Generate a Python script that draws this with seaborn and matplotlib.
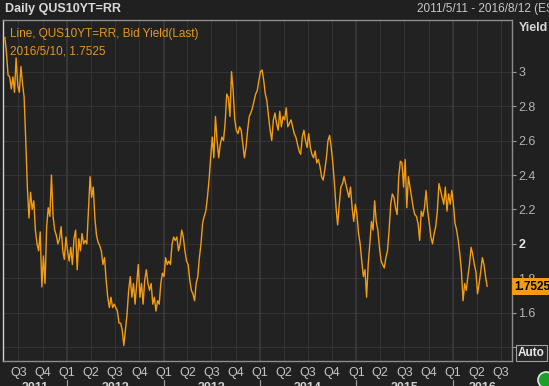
import numpy as np
import pandas as pd
import matplotlib
matplotlib.use("Agg")
import matplotlib.pyplot as plt
import matplotlib.dates as mdates
import matplotlib.transforms as mtransforms
from matplotlib.patches import Circle
import seaborn as sns

# ---------------- data ----------------
series_name = "Line, QUS10YT=RR, Bid Yield(Last)"
title_text = "Daily QUS10YT=RR"
range_text = "2011/5/11 - 2016/8/12 (EST)"
data_start = "2011-05-11"
data_end = "2016-05-10"
view_start = "2011-05-04"
view_end = "2016-08-12"
last_label = "2016/5/10, 1.7525"
last_value = 1.7525

yields_2011_12 = [3.20, 3.11, 2.98, 2.97, 2.90, 2.97, 2.88, 3.08, 2.92, 2.88,
                  3.03, 2.93, 2.85, 2.60, 2.33, 2.15, 2.30, 2.20, 2.25, 2.08,
                  2.00, 1.96, 2.07, 1.75, 1.93, 1.77, 2.10, 2.21, 2.16, 2.40,
                  2.16, 2.08, 2.05, 2.00, 2.03, 2.10, 1.96, 1.91, 2.04, 1.96,
                  1.90, 1.98, 1.88, 2.03, 2.08, 1.85, 2.03, 1.96, 2.06, 2.00,
                  2.02, 2.00, 2.20, 2.39, 2.27, 2.33, 2.15, 2.05, 2.01, 1.99,
                  1.96]
yields_2012_13 = [1.88, 1.92, 1.79, 1.69, 1.63, 1.69, 1.63, 1.65, 1.63, 1.61,
                  1.54, 1.54, 1.50, 1.41, 1.50, 1.59, 1.73, 1.81, 1.69, 1.77,
                  1.65, 1.77, 1.88, 1.69, 1.77, 1.65, 1.79, 1.85, 1.77, 1.73,
                  1.77, 1.65, 1.69, 1.61, 1.67, 1.65, 1.77, 1.83, 1.81, 1.92,
                  1.88, 1.90, 1.88, 2.00, 2.04, 2.02, 2.04, 1.96, 2.00, 2.08,
                  2.04, 1.96, 1.90, 1.88, 1.79, 1.73, 1.71, 1.67, 1.77, 1.81,
                  1.92]
yields_2013_14 = [2.00, 2.12, 2.16, 2.19, 2.27, 2.37, 2.50, 2.62, 2.50, 2.74,
                  2.60, 2.50, 2.58, 2.62, 2.60, 2.70, 2.87, 2.85, 2.74, 3.00,
                  2.89, 2.72, 2.66, 2.64, 2.68, 2.66, 2.58, 2.50, 2.56, 2.66,
                  2.74, 2.76, 2.79, 2.83, 2.87, 2.89, 2.95, 3.00, 3.01, 2.95,
                  2.87, 2.83, 2.74, 2.66, 2.60, 2.72, 2.76, 2.70, 2.66, 2.77,
                  2.68, 2.74, 2.72, 2.79, 2.68, 2.70, 2.72, 2.68, 2.64, 2.62,
                  2.58, 2.54, 2.52]
yields_2014_15 = [2.62, 2.66, 2.60, 2.56, 2.64, 2.56, 2.52, 2.50, 2.54, 2.47,
                  2.49, 2.45, 2.39, 2.37, 2.43, 2.50, 2.60, 2.63, 2.56, 2.47,
                  2.35, 2.21, 2.11, 2.23, 2.33, 2.35, 2.39, 2.35, 2.31, 2.27,
                  2.33, 2.21, 2.13, 2.23, 2.17, 2.06, 2.00, 1.90, 1.81, 1.85,
                  1.69, 1.88, 2.00, 2.13, 2.08, 2.25, 2.13, 2.08, 1.98, 1.90,
                  1.88, 1.86, 1.92, 1.96, 2.08, 2.23, 2.29, 2.27, 2.21, 2.17,
                  2.39, 2.48]
yields_2015_16 = [2.47, 2.33, 2.49, 2.21, 2.39, 2.33, 2.27, 2.21, 2.17, 2.16,
                  2.12, 2.02, 2.19, 2.16, 2.21, 2.31, 2.19, 2.12, 2.04, 2.00,
                  2.06, 2.10, 2.19, 2.35, 2.31, 2.27, 2.23, 2.33, 2.19, 2.29,
                  2.23, 2.31, 2.23, 2.12, 2.08, 2.02, 1.94, 1.84, 1.67, 1.77,
                  1.73, 1.81, 1.88, 1.98, 1.94, 1.88, 1.84, 1.71, 1.77, 1.84,
                  1.92, 1.88, 1.81, 1.7525]

y_ticks = [1.4, 1.6, 1.8, 2.0, 2.2, 2.4, 2.6, 2.8, 3.0]
y_tick_labels = ["", "1.6", "1.8", "2", "2.2", "2.4", "2.6", "2.8", "3"]
y_limits = (1.32, 3.30)
year_labels = ["2011", "2012", "2013", "2014", "2015", "2016"]

# ---------------- style ----------------
BG = "#202020"
AX_BG = "#222222"
ORANGE = "#f39c12"
GRID = "#333333"
TXT = "#b4b4b4"

sns.set_style("dark", {"axes.facecolor": AX_BG, "figure.facecolor": BG})
plt.rcParams["font.family"] = ["Liberation Sans Narrow", "Liberation Sans", "DejaVu Sans"]

W, H = 549, 386
fig = plt.figure(figsize=(W / 100, H / 100), dpi=100, facecolor=BG)
L, R, T, B = 3, 512, 20, 361
ax = fig.add_axes([L / W, 1 - B / H, (R - L) / W, (B - T) / H])
ax.set_facecolor(AX_BG)

values = yields_2011_12 + yields_2012_13 + yields_2013_14 + yields_2014_15 + yields_2015_16
df = pd.DataFrame({
    "date": pd.date_range(data_start, data_end, periods=len(values)),
    "yield": values,
})
sns.lineplot(data=df, x="date", y="yield", ax=ax, color=ORANGE, linewidth=1.0, zorder=3)

ax.set_xlim(pd.Timestamp(view_start), pd.Timestamp(view_end))
ax.set_ylim(*y_limits)
ax.set_xlabel("")
ax.set_ylabel("")

# x axis: quarters
ax.xaxis.set_major_locator(mdates.MonthLocator(bymonth=[1, 4, 7, 10]))
ax.xaxis.set_major_formatter(mdates.DateFormatter("%m"))
fig.canvas.draw()
qmap = {"01": "Q1", "04": "Q2", "07": "Q3", "10": "Q4"}
locs = ax.get_xticks()
ax.set_xticks(locs, [qmap[mdates.num2date(v).strftime("%m")] for v in locs])
ax.tick_params(axis="x", colors="#8a8a8a", labelcolor="#c4c4c4", labelsize=9,
               length=3, width=0.8, pad=1.5, direction="out")

# y axis on right
ax.yaxis.tick_right()
ax.set_yticks(y_ticks, y_tick_labels)
ax.tick_params(axis="y", colors="#9a9a9a", labelcolor=TXT, labelsize=9,
               length=3, width=0.8, pad=1.5, direction="out")
for lbl in ax.get_yticklabels():
    if lbl.get_text() == "2":
        lbl.set_fontweight("bold")
        lbl.set_color("#e6e6e6")

# grid
ax.grid(True, color=GRID, linewidth=0.8)
for yr in year_labels[1:]:
    ax.axvline(pd.Timestamp(f"{yr}-01-01"), color="#3a3a3a", linewidth=1.2, zorder=1)

for side, sp in ax.spines.items():
    sp.set_visible(True)
    sp.set_color("#8c8c8c")
    sp.set_linewidth(1.0)
ax.spines["left"].set_color("#d0d0d0")

# year labels and separators under the quarter labels
blend = mtransforms.blended_transform_factory(ax.transData, ax.transAxes)
vs, ve = pd.Timestamp(view_start), pd.Timestamp(view_end)
for yr in year_labels:
    a = max(pd.Timestamp(f"{yr}-01-01"), vs)
    b = min(pd.Timestamp(f"{yr}-12-31"), ve)
    mid = a + (b - a) / 2
    ax.text(mid, -0.062, yr, transform=blend, ha="center", va="top",
            color="#d0d0d0", fontsize=9, fontweight="bold", clip_on=False)
    if yr != year_labels[0]:
        ax.plot([pd.Timestamp(f"{yr}-01-01")] * 2, [-0.055, -0.09], transform=blend,
                color="#9a9a9a", linewidth=0.9, clip_on=False)

# legend text inside plot
ax.text(0.013, 0.958, series_name, transform=ax.transAxes, color="#e8961e",
        fontsize=8.5, va="center", ha="left", zorder=6)
ax.text(0.013, 0.908, last_label, transform=ax.transAxes, color="#e8961e",
        fontsize=8.5, va="center", ha="left", zorder=6)

# last value flag on the right axis
yblend = mtransforms.blended_transform_factory(ax.transAxes, ax.transData)
ax.text(1.004, last_value, f"{last_value:.4f}", transform=yblend, ha="left", va="center",
        color="black", fontsize=8.5, fontweight="bold", zorder=10, clip_on=False,
        bbox=dict(boxstyle="square,pad=0.2", fc=ORANGE, ec="none"))

# header texts
fig.text(5 / W, 1 - 9 / H, title_text, color="#d8d8d8", fontsize=9, fontweight="bold",
         ha="left", va="center")
fig.text(417 / W, 1 - 9 / H, range_text, color="#c8c8c8", fontsize=8.5,
         ha="left", va="center")
fig.text(519 / W, 1 - 28 / H, "Yield", color="#d4d4d4", fontsize=9, fontweight="bold",
         ha="left", va="center")

# Auto button and status circle
fig.text(518 / W, 1 - 353 / H, "Auto", color="#e8e8e8", fontsize=8.5, fontweight="bold",
         ha="left", va="center",
         bbox=dict(boxstyle="square,pad=0.15", fc="#262626", ec="#a0a0a0", lw=0.8))
fig.add_artist(Circle((546, H - 380), 8, transform=None, fc="#1e9e2a", ec="#d8f0d8",
                      lw=1.2, zorder=10))

fig.savefig("out.png", dpi=100, facecolor=BG)
